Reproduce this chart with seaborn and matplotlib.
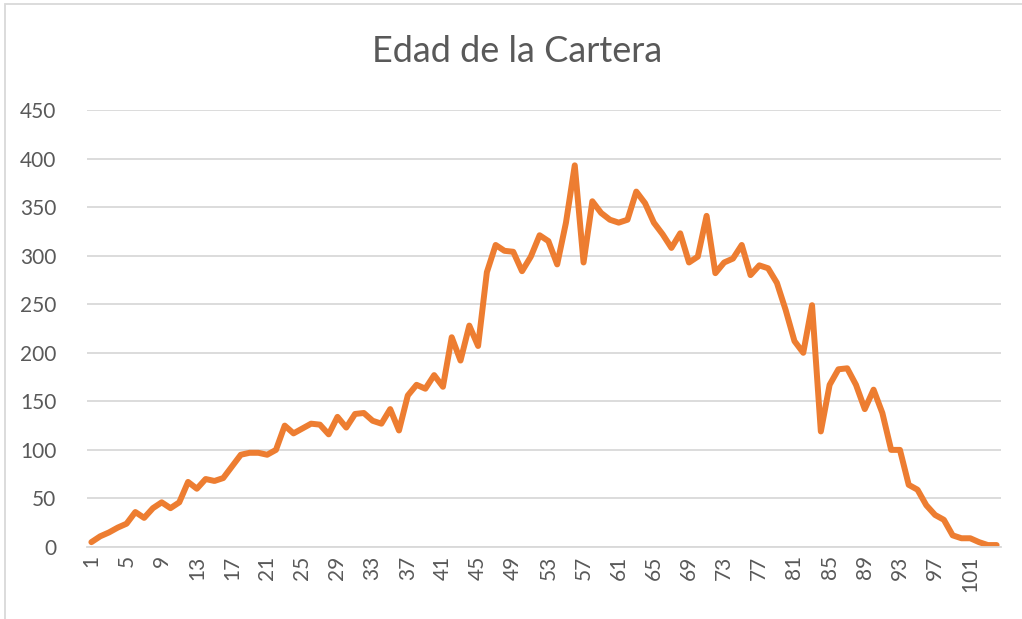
import pandas as pd
import seaborn as sns
import matplotlib.pyplot as plt
from matplotlib.patches import Rectangle

# edad (1..104) y cantidad de clientes
edades = list(range(1, 105))
cantidad = [
    5, 11, 15, 20, 24, 36, 30, 40, 46, 40,
    46, 67, 60, 70, 68, 71, 83, 95, 97, 97,
    95, 100, 125, 117, 122, 127, 126, 116, 134, 123,
    137, 138, 130, 127, 142, 120, 156, 167, 163, 177,
    165, 216, 192, 228, 207, 283, 311, 305, 304, 284,
    299, 321, 315, 291, 334, 393, 293, 356, 344, 337,
    334, 337, 366, 354, 334, 322, 308, 323, 293, 299,
    341, 282, 293, 297, 311, 280, 290, 287, 272, 244,
    212, 200, 249, 119, 167, 183, 184, 167, 142, 162,
    138, 100, 100, 64, 59, 43, 33, 28, 12, 9,
    9, 5, 2, 2,
]
xticks = list(range(1, 105, 4))
yticks = list(range(0, 451, 50))

TXT = "#595959"
GRID = "#D9D9D9"
ORANGE = "#ED7D31"

sns.set_theme(style="white")
plt.rcParams["font.family"] = ["Lato", "DejaVu Sans"]

df = pd.DataFrame({"edad": edades, "cantidad": cantidad})

fig = plt.figure(figsize=(10.22, 6.19), dpi=100)
ax = fig.add_axes([87 / 1022, 1 - 547 / 619, (1001 - 87) / 1022, (547 - 110) / 619])

sns.lineplot(data=df, x="edad", y="cantidad", ax=ax, color=ORANGE,
             linewidth=4.3, solid_capstyle="round", solid_joinstyle="round")

ax.set_xlim(0.5, 104.5)
ax.set_ylim(0, 450)
ax.set_xticks(xticks)
ax.set_xticklabels([str(t) for t in xticks], rotation=90)
ax.set_yticks(yticks)
ax.tick_params(axis="both", length=0, colors=TXT, labelsize=15)
ax.tick_params(axis="y", pad=22)
ax.tick_params(axis="x", pad=6)
ax.yaxis.grid(True, color=GRID, linewidth=1.3)
ax.set_axisbelow(True)
for s in ["top", "right", "left"]:
    ax.spines[s].set_visible(False)
ax.spines["bottom"].set_color(GRID)
ax.spines["bottom"].set_linewidth(1.3)
ax.set_xlabel("")
ax.set_ylabel("")

fig.text(0.506, 1 - 52 / 619, "Edad de la Cartera", ha="center", va="center",
         fontsize=26, color=TXT)

# borde del area del grafico (solo se ve arriba y a la izquierda)
fig.patches.append(Rectangle((5 / 1022, -0.1), 1.2, 1 - 4 / 619 + 0.1,
                             transform=fig.transFigure, fill=False,
                             edgecolor=GRID, linewidth=1.3))

fig.savefig("out.png", dpi=100)
